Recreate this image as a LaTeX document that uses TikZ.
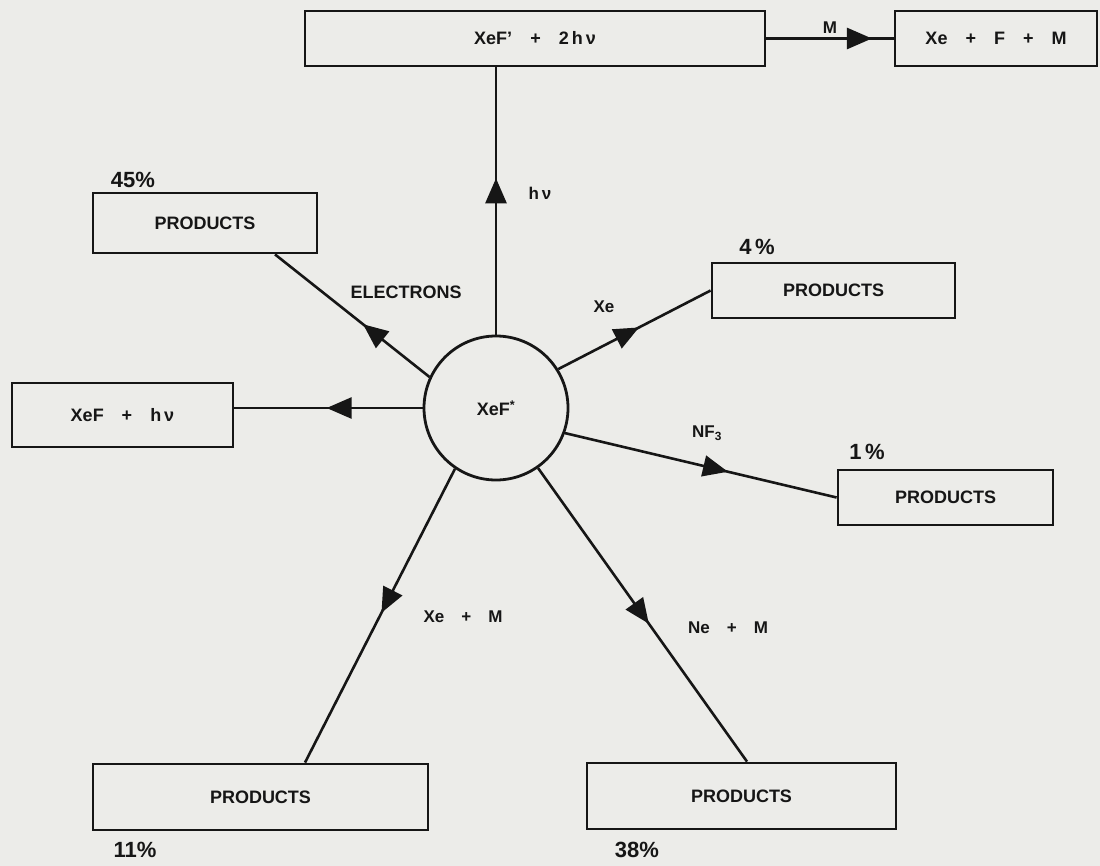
\documentclass[tikz,border=0pt]{standalone}
\usepackage{fontspec}
\setmainfont{Liberation Sans}
\usetikzlibrary{arrows.meta,decorations.markings}
\definecolor{paper}{RGB}{236,236,233}
\definecolor{ink}{RGB}{22,22,22}

\begin{document}
\begin{tikzpicture}[x=1pt,y=-1pt,
        every node/.style={text=ink,font=\fontsize{18}{20}\selectfont\bfseries},
        box/.style={draw=ink,line width=2.8pt,inner sep=0pt},
        pct/.style={font=\fontsize{22}{24}\selectfont\bfseries},
        small/.style={font=\fontsize{17}{19}\selectfont\bfseries},
        flow/.style={draw=ink,line width=2.6pt,postaction={decorate},
            decoration={markings,mark=at position #1 with {\arrow{Triangle[length=25pt,width=21pt]}}}}]

        \useasboundingbox (0,0) rectangle (1100,866);
        \fill[paper] (0,0) rectangle (1100,866);

        % Excited molecule
        \node[circle,draw=ink,line width=2.8pt,minimum size=144pt,inner sep=0pt] (xef) at (496,408) {XeF\textsuperscript{*}};

        % Top row
        \node[box,minimum width=460pt,minimum height=55pt] (top) at (535,38.5) {XeF’\quad+\quad 2\,h\,ν};
        \node[box,minimum width=202pt,minimum height=55pt] (xfm) at (996,38.5) {Xe\quad+\quad F\quad+\quad M};

        % Product boxes
        \node[box,minimum width=224pt,minimum height=60pt] (p45) at (205,223) {PRODUCTS};
        \node[box,minimum width=243pt,minimum height=55pt] (p4) at (833.5,290.5) {PRODUCTS};
        \node[box,minimum width=221pt,minimum height=64pt] (xhv) at (122.5,415) {XeF\quad+\quad h\,ν};
        \node[box,minimum width=215pt,minimum height=55pt] (p1) at (945.5,497.5) {PRODUCTS};
        \node[box,minimum width=335pt,minimum height=66pt] (p11) at (260.5,797) {PRODUCTS};
        \node[box,minimum width=309pt,minimum height=66pt] (p38) at (741.5,796) {PRODUCTS};

        % Branching ratios
        \node[pct] (l45) at (133,180) {45\%};
        \node[pct] (l4) at (757,247) {4\,\%};
        \node[pct] (l1) at (867,452) {1\,\%};
        \node[pct] (l11) at (135,850) {11\%};
        \node[pct] (l38) at (637,850) {38\%};

        % Arrows
        \draw[flow=0.585] (xef.north) -- (xef.north |- top.south);
        \draw[flow=0.83] (top.east) -- (xfm.west);
        \draw[flow=0.43] (xef.155) -- ([xshift=70pt]p45.south);
        \draw[flow=0.51] (xef.west) -- (xef.west -| xhv.east);
        \draw[flow=0.53] (xef.32) -- (p4.west);
        \draw[flow=0.6] (xef.-20) -- (p1.west);
        \draw[flow=0.49] (xef.236) -- ([xshift=44.5pt]p11.north);
        \draw[flow=0.53] (xef.305) -- ([xshift=5.5pt]p38.north);

        % Arrow labels
        \node[small] (hnu) at (540,193) {h\,ν};
        \node[small] (mlab) at (830,28) {M};
        \node (elec) at (406,292) {ELECTRONS};
        \node[small] (xel) at (604,307) {Xe};
        \node[small] (nf3) at (707,433) {NF\textsubscript{3}};
        \node[small] (xem) at (463,617) {Xe\quad+\quad M};
        \node[small] (nem) at (728,628) {Ne\quad+\quad M};

\end{tikzpicture}
\end{document}
